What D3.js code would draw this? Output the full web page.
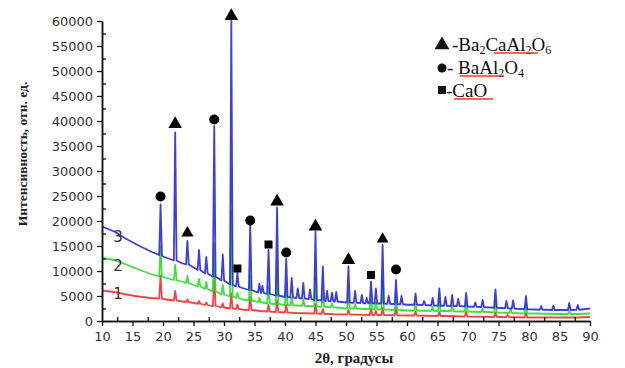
<!DOCTYPE html>
<html>
<head>
<meta charset="utf-8">
<script src="https://cdn.jsdelivr.net/npm/d3@7"></script>
<style>
  body { margin: 0; background: #fff; }
  svg { display: block; }
  .tick text { font-family: "DejaVu Sans", Arial, sans-serif; font-size: 13px; fill: #333; }
  .serif { font-family: "Liberation Serif", "Times New Roman", serif; }
</style>
</head>
<body>
<script>
// 2θ ticks and intensity ticks
const xTicks = d3.range(10, 91, 5);
const yTicks = d3.range(0, 60001, 5000);

// baselines: [2θ, intensity]
const blueBase = [[10,18900],[12,17900],[14,16400],[16,15100],[18,13900],[20,12900],[23,11600],[26,10100],[28,9000],[30,8000],[33,6600],[36,5600],[39,5000],[42,4600],[45,4200],[48,3900],[50,3700],[53,3550],[56,3450],[60,3250],[63,3150],[66,3050],[70,2900],[73,2750],[76,2550],[78,2450],[81,2300],[83,2250],[85,2200],[88,2250],[90,2500]];
const greenBase = [[10,12600],[12,12200],[14,11300],[16,10300],[18,9400],[20,8800],[23,7900],[26,6800],[28,6000],[30,5200],[33,4300],[36,3700],[39,3300],[42,3100],[45,2900],[48,2650],[50,2500],[53,2400],[56,2300],[60,2100],[63,2050],[66,2000],[70,1900],[73,1800],[76,1650],[78,1550],[81,1500],[83,1450],[85,1400],[88,1400],[90,1500]];
const redBase = [[10,6100],[12,5800],[14,5300],[16,4900],[18,4600],[20,4400],[23,3950],[26,3400],[28,3000],[30,2700],[33,2300],[36,2000],[39,1750],[42,1600],[45,1500],[48,1350],[50,1300],[53,1220],[56,1180],[60,1100],[63,1050],[66,1000],[70,900],[73,850],[76,800],[78,750],[81,700],[83,700],[85,700],[88,700],[90,800]];

// peaks: [2θ, foot, top]
const bluePeaks = [[19.6,13200,23300],[22.0,12100,37700],[24.0,11300,16000],[25.9,10200,14200],[27.1,9500,12800],[28.4,8900,39000],[29.8,8100,13300],[31.2,7300,60000],[32.2,6900,9600],[34.3,6200,19500],[35.8,5700,7400],[36.3,5600,7000],[37.3,5400,14200],[38.7,5100,22700],[40.2,4800,12400],[41.1,4700,8600],[42.1,4600,6500],[43.0,4500,7600],[44.1,4400,6300],[45.0,4200,17900],[46.2,4100,10900],[46.9,4000,6000],[47.7,3950,5600],[48.4,3900,5800],[50.4,3700,10900],[51.5,3650,6000],[52.6,3600,5200],[53.4,3550,4600],[54.1,3550,7900],[54.9,3500,6500],[56.0,3500,15200],[57.0,3450,5000],[58.2,3400,8200],[59.1,3350,5000],[61.4,3250,5500],[62.8,3200,4000],[64.2,3100,4600],[65.3,3050,6500],[66.3,3050,4800],[67.4,3000,5200],[68.4,3000,4400],[69.7,2900,5600],[71.2,2850,3700],[72.4,2800,4200],[74.5,2650,6300],[76.3,2550,4000],[77.4,2500,4100],[79.5,2350,5000],[82.0,2250,3000],[84.0,2200,3100],[86.6,2200,3600],[88.0,2250,3200]];
const greenPeaks = [[19.6,8900,14900],[22.0,8200,11200],[24.0,7600,9000],[25.9,6900,8400],[27.1,6400,7800],[28.4,6000,15500],[29.8,5300,7200],[31.2,4900,22000],[32.2,4600,5600],[34.3,4100,9000],[35.8,3800,4600],[37.3,3500,7000],[38.7,3400,10500],[40.2,3200,6800],[41.1,3150,4600],[43.0,3050,4200],[45.0,2900,8500],[46.2,2850,5400],[47.7,2750,3500],[50.4,2500,5600],[51.5,2500,3300],[54.1,2350,4500],[54.9,2300,3700],[56.0,2300,8000],[58.2,2200,4800],[61.4,2100,3300],[64.2,2050,2800],[65.3,2000,4000],[67.4,1950,3100],[69.7,1900,3500],[72.4,1800,2500],[74.5,1700,4000],[77.0,1600,2400],[79.5,1500,3200],[86.6,1400,2000]];
const redPeaks = [[19.6,4500,9000],[22.0,4100,6000],[24.0,3800,4300],[25.9,3450,4000],[27.1,3200,3700],[28.4,3000,9000],[29.8,2700,3500],[31.2,2500,5500],[32.2,2400,3300],[34.3,2200,4800],[37.3,1900,3200],[38.7,1800,4000],[40.2,1700,3200],[45.0,1500,3300],[46.2,1450,2400],[50.4,1300,2200],[54.1,1200,2400],[54.9,1200,2000],[56.0,1200,2600],[58.2,1150,2800],[61.4,1100,1900],[65.3,1000,1800],[69.7,900,1800],[74.5,800,1700],[76.5,800,1200],[79.5,700,1600]];

// phase markers: [2θ, intensity, relative size]
const triMarks = [[22.0,39400,1],[24.0,17600,0.8],[31.2,61000,1],[38.7,23900,1],[45.0,18900,1],[50.4,12200,1],[56.0,16400,0.75]];
const circMarks = [[19.6,24900],[28.4,40300],[34.3,20100],[40.2,13700],[58.2,10300]];
const sqMarks = [[32.2,10500],[37.3,15300],[54.1,9200]];

const W = 625, H = 368;
const svg = d3.select('body').append('svg').attr('width', W).attr('height', H);

const x = d3.scaleLinear().domain([10, 90]).range([102, 590]);
const y = d3.scaleLinear().domain([0, 60000]).range([321, 21]);

// merge baseline points with peak triples (foot, top, foot)
function pattern(base, peaks) {
  const hw = 0.22;
  const pts = base.filter(b => !peaks.some(p => Math.abs(p[0] - b[0]) < hw + 0.1));
  peaks.forEach(p => {
    pts.push([p[0] - hw, p[1]], [p[0], p[2]], [p[0] + hw, p[1]]);
  });
  return pts.sort((a, b) => a[0] - b[0]);
}

const line = d3.line().x(d => x(d[0])).y(d => y(d[1]));

const series = [
  { base: redBase, peaks: redPeaks, color: '#ee2b2b' },
  { base: greenBase, peaks: greenPeaks, color: '#25d925' },
  { base: blueBase, peaks: bluePeaks, color: '#2323d8' }
];

svg.append('g').selectAll('path')
  .data(series)
  .enter().append('path')
  .attr('d', d => line(pattern(d.base, d.peaks)))
  .attr('fill', 'none')
  .attr('stroke', d => d.color)
  .attr('stroke-width', 1.8)
  .attr('stroke-opacity', 0.88)
  .attr('stroke-linejoin', 'round');

// axes: labelled ticks outward, minor ticks inward
svg.append('g').attr('transform', `translate(0,${y(0)})`)
  .call(d3.axisBottom(x).tickValues(xTicks).tickFormat(d3.format('d')).tickSizeInner(5).tickSizeOuter(0).tickPadding(6));
svg.append('g').attr('transform', `translate(0,${y(0)})`)
  .call(d3.axisBottom(x).tickValues(xTicks.slice(0, -1).map(v => v + 2.5)).tickSizeInner(-4).tickSizeOuter(0).tickFormat(''));
svg.append('g').attr('transform', `translate(${x(10)},0)`)
  .call(d3.axisLeft(y).tickValues(yTicks).tickFormat(d3.format('d')).tickSizeInner(5).tickSizeOuter(0).tickPadding(4));
svg.append('g').attr('transform', `translate(${x(10)},0)`)
  .call(d3.axisLeft(y).tickValues(yTicks.slice(0, -1).map(v => v + 2500)).tickSizeInner(-4).tickSizeOuter(0).tickFormat(''));

svg.selectAll('.domain').attr('stroke', '#111').attr('stroke-width', 1.5);
svg.selectAll('.tick line').attr('stroke', '#111').attr('stroke-width', 1.3);

// phase markers
const mk = svg.append('g').attr('fill', '#000');
mk.selectAll('.tri').data(triMarks).enter().append('path')
  .attr('d', d => d3.symbol().type(d3.symbolTriangle).size(80 * d[2])())
  .attr('transform', d => `translate(${x(d[0])},${y(d[1])})`);
mk.selectAll('.circ').data(circMarks).enter().append('circle')
  .attr('cx', d => x(d[0])).attr('cy', d => y(d[1])).attr('r', 5);
mk.selectAll('.sq').data(sqMarks).enter().append('rect')
  .attr('x', d => x(d[0]) - 4).attr('y', d => y(d[1]) - 4)
  .attr('width', 8).attr('height', 8);

// curve numbers
[['3', 15800], ['2', 10000], ['1', 4400]].forEach(([t, v]) => {
  svg.append('text').attr('x', 118).attr('y', y(v)).attr('text-anchor', 'middle')
    .attr('font-family', 'DejaVu Sans, Arial, sans-serif').attr('font-size', 15)
    .attr('fill', '#333').text(t);
});

// axis titles
svg.append('text').attr('class', 'serif')
  .attr('transform', 'translate(27,154) rotate(-90)')
  .attr('text-anchor', 'middle').attr('font-weight', 'bold').attr('font-size', 13.5)
  .attr('fill', '#222').text('Интенсивность, отн. ед.');
svg.append('text').attr('class', 'serif')
  .attr('x', 354).attr('y', 363).attr('text-anchor', 'middle')
  .attr('font-weight', 'bold').attr('font-size', 15).attr('fill', '#222')
  .text('2θ, градусы');

// legend
const lg = svg.append('g').attr('class', 'serif').attr('font-size', 19).attr('fill', '#111');
lg.append('path').attr('d', d3.symbol().type(d3.symbolTriangle).size(95)())
  .attr('transform', 'translate(442,45)');
lg.append('circle').attr('cx', 442).attr('cy', 68).attr('r', 4.5);
lg.append('rect').attr('x', 438).attr('y', 86).attr('width', 8).attr('height', 8);

const t1 = lg.append('text').attr('x', 452).attr('y', 51);
t1.append('tspan').text('-Ba');
t1.append('tspan').attr('font-size', 12).attr('dy', 2.5).text('2');
t1.append('tspan').attr('dy', -2.5).text('CaAl');
t1.append('tspan').attr('font-size', 12).attr('dy', 2.5).text('2');
t1.append('tspan').attr('dy', -2.5).text('O');
t1.append('tspan').attr('font-size', 12).attr('dy', 2.5).text('6');

const t2 = lg.append('text').attr('x', 447).attr('y', 74);
t2.append('tspan').text('- BaAl');
t2.append('tspan').attr('font-size', 12).attr('dy', 2.5).text('2');
t2.append('tspan').attr('dy', -2.5).text('O');
t2.append('tspan').attr('font-size', 12).attr('dy', 2.5).text('4');

lg.append('text').attr('x', 446).attr('y', 97).text('-CaO');

// red spell-check underlines
[[494, 538, 53], [460, 504, 76], [454, 493, 99]].forEach(([a, b, yy]) => {
  svg.append('line').attr('x1', a).attr('x2', b).attr('y1', yy).attr('y2', yy)
    .attr('stroke', '#e33').attr('stroke-width', 1.3);
});
</script>
</body>
</html>
